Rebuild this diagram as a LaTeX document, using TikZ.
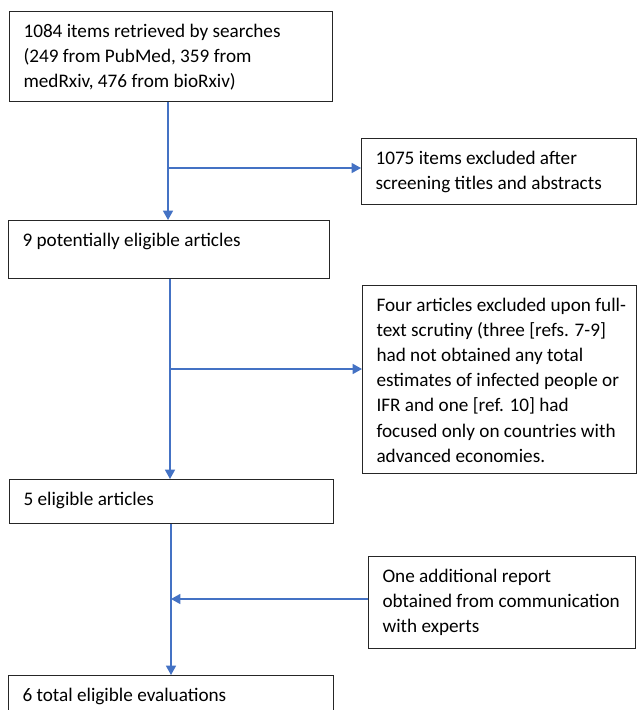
\documentclass[tikz,border=0pt]{standalone}
\usepackage{fontspec}
\setmainfont{Carlito}
\usetikzlibrary{arrows.meta}
\definecolor{flowblue}{HTML}{4472C4}
% text of a box: fixed size, set from the top
\newcommand{\boxtext}[3]{\parbox[c][#2][t]{#1}{\rightskip=-12pt plus 1fil\strut #3}}
\begin{document}
\begin{tikzpicture}[x=0.75pt,y=-0.75pt,font=\fontsize{14.4}{18.9}\selectfont,
  stagebox/.style={draw=black!85, line width=0.8pt, anchor=north west, inner xsep=10.5pt, inner ysep=6pt},
  flow/.style={draw=flowblue, line width=1.1pt, -{Triangle[length=7pt,width=7.5pt]}}]
\useasboundingbox (0,0) rectangle (637,710);
%
\node[stagebox] (b1) at (9,11) {\boxtext{221.25pt}{55.5pt}{1084 items retrieved by searches\\(249 from PubMed, 359 from\\medRxiv, 476 from bioRxiv)}};
\node[stagebox] (b2) at (8,220) {\boxtext{219.75pt}{31.5pt}{9 potentially eligible articles}};
\node[stagebox] (b3) at (9,479) {\boxtext{222pt}{21pt}{5 eligible articles}};
\node[stagebox] (b4) at (8,675) {\boxtext{222.75pt}{31.5pt}{6 total eligible evaluations}};
%
\node[stagebox] (x1) at (361,138) {\boxtext{185.25pt}{37.5pt}{1075 items excluded after\\screening titles and abstracts}};
\node[stagebox] (x2) at (362,285) {\boxtext{184.5pt}{129pt}{Four articles excluded upon full-\\text scrutiny (three [refs. 7-9]\\had not obtained any total\\estimates of infected people or\\IFR and one [ref. 10] had\\focused only on countries with\\advanced economies.}};
\node[stagebox] (x3) at (368,556) {\boxtext{179.25pt}{57pt}{One additional report\\obtained from communication\\with experts}};
%
\coordinate (j1) at (168,168);
\coordinate (j2) at (170,369);
\coordinate (j3) at (171,599);
\draw[flow] (b1.south -| j1) -- (b2.north -| j1);
\draw[flow] (j1) -- (j1 -| x1.west);
\draw[flow] (b2.south -| j2) -- (b3.north -| j2);
\draw[flow] (j2) -- (j2 -| x2.west);
\draw[flow] (b3.south -| j3) -- (b4.north -| j3);
\draw[flow] (x3.west |- j3) -- (j3);
\end{tikzpicture}
\end{document}
